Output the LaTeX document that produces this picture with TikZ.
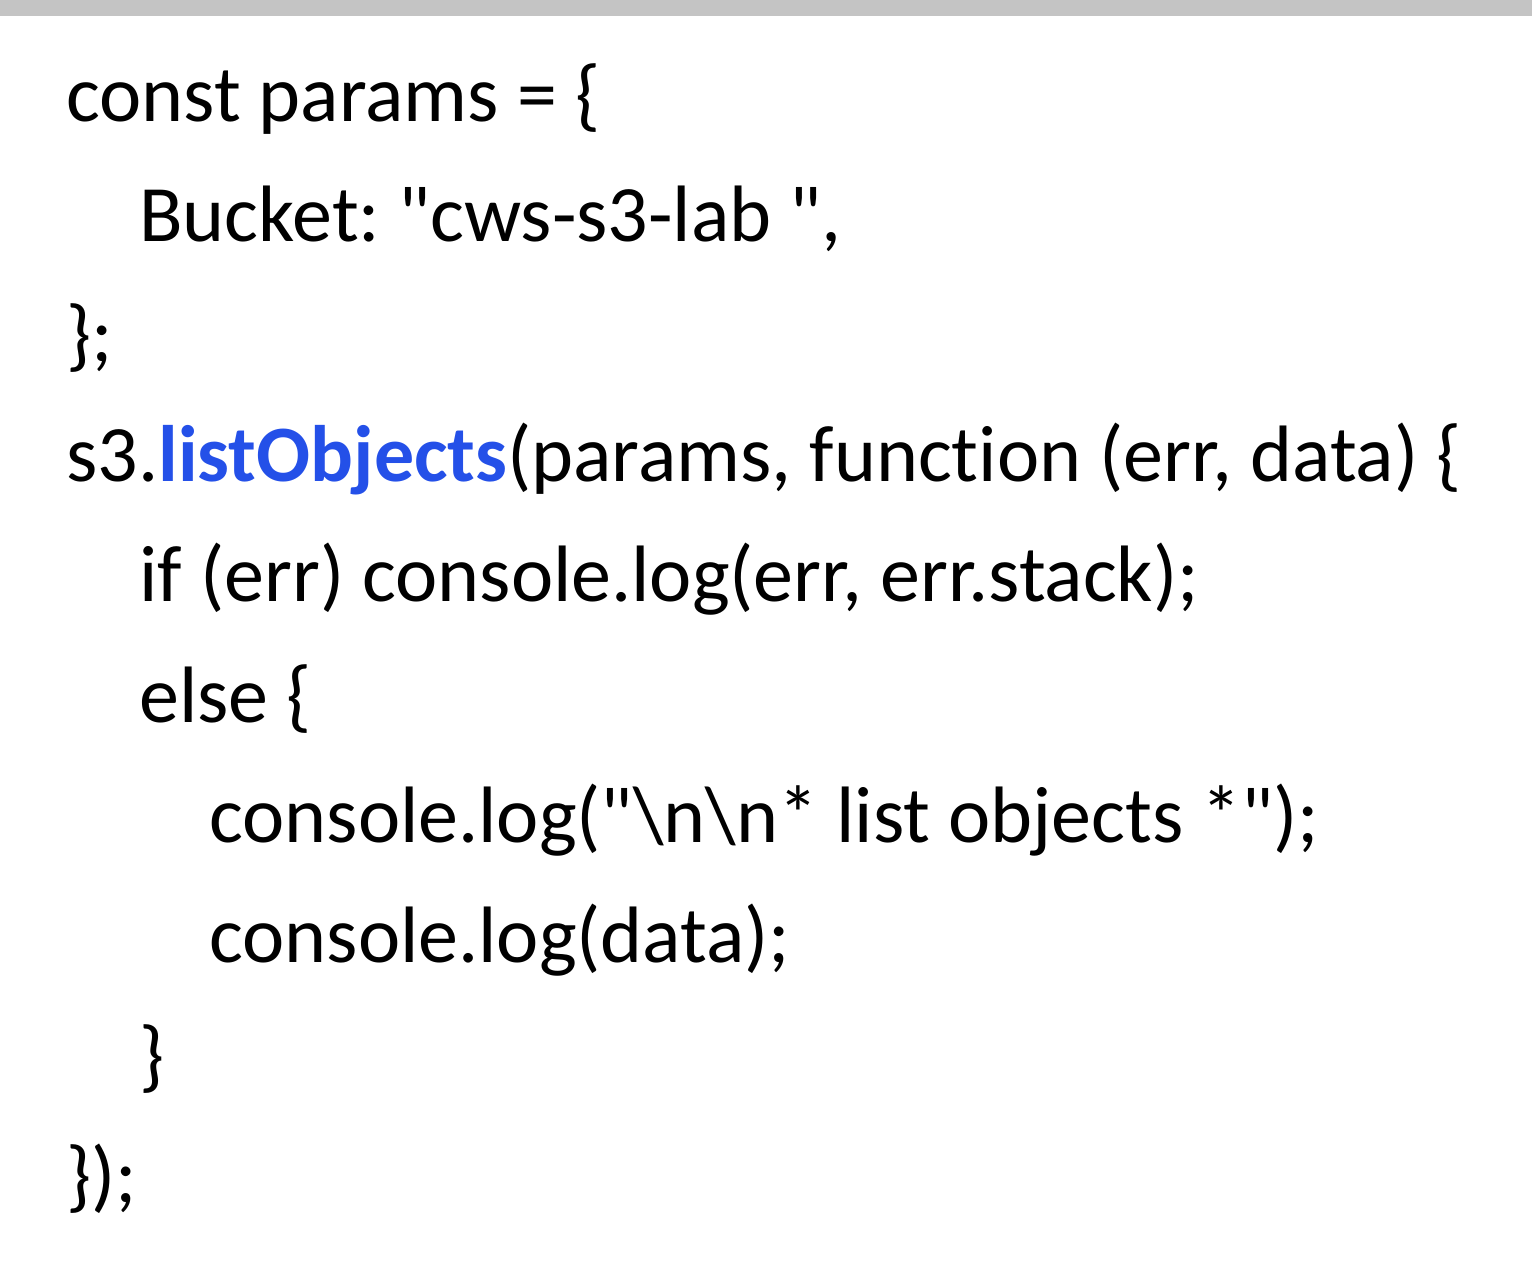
\documentclass[tikz,border=0pt]{standalone}
\usepackage{fontspec}
\setmainfont{Carlito}[Ligatures={TeXOff,NoCommon}]
\usetikzlibrary{positioning}
\definecolor{keyblue}{RGB}{36,80,232}
\definecolor{bargray}{RGB}{196,196,196}

\begin{document}
\frenchspacing
\begin{tikzpicture}[x=0.5pt, y=-0.5pt,
        codeline/.style={anchor=base west, inner sep=0pt, font=\fontsize{40}{48}\selectfont}]
        \useasboundingbox (0,0) rectangle (1532,1262);
        \fill [bargray] (0,0) rectangle (1532,16);
        \node [codeline] (l1) at (66,122) {const params = \{};
        \node [codeline] (l2) at (139,242) {Bucket: "cws-s3-lab ",};
        \node [codeline] (l3) at (66,362) {\};};
        \node [codeline] (l4) at (66,482) {s3.\textcolor{keyblue}{\bfseries listObjects}(params, function (err, data) \{};
        \node [codeline] (l5) at (139,602) {if (err) console.log(err, err.stack);};
        \node [codeline] (l6) at (139,722) {else \{};
        \node [codeline] (l7) at (209,842) {console.log("\textbackslash n\textbackslash n* list objects *");};
        \node [codeline] (l8) at (209,962) {console.log(data);};
        \node [codeline] (l9) at (139,1082) {\}};
        \node [codeline] (l10) at (66,1202) {\});};
    \end{tikzpicture}
\end{document}
